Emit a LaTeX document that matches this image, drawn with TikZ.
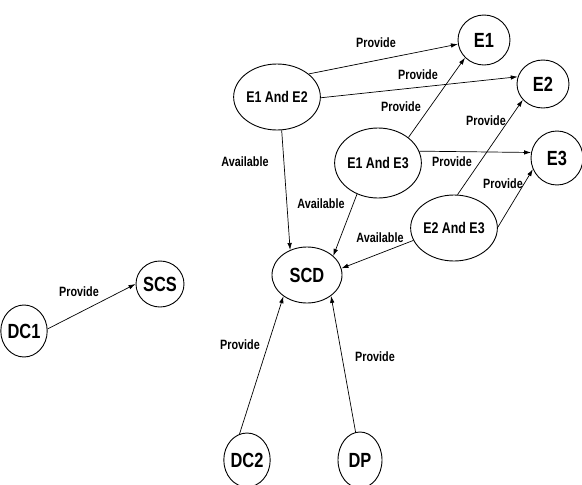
\documentclass[tikz,border=0pt]{standalone}
\usepackage{fontspec}
\setmainfont{Liberation Sans}[FakeStretch=0.8]
\usetikzlibrary{shapes.geometric,arrows.meta}
\begin{document}
\begin{tikzpicture}[x=1pt,y=-1pt,
  ell/.style={draw,ellipse,inner sep=0pt,line width=0.9pt,font=\bfseries\fontsize{#1}{#1}\selectfont},
  big/.style={ell=20.5},
  pair/.style={ell=15.5},
  arr/.style={line width=0.7pt,-{Latex[length=7pt,width=4.5pt]}},
  lab/.style={font=\bfseries\fontsize{13.5}{13.5}\selectfont,inner sep=0pt}]
\useasboundingbox (0,0) rectangle (582,485);
\node[big,minimum width=52pt,minimum height=50pt] (E1) at (484,40) {E1};
\node[big,minimum width=52pt,minimum height=48pt] (E2) at (543,84) {E2};
\node[big,minimum width=52pt,minimum height=54pt] (E3) at (557,158) {E3};
\node[pair,minimum width=80pt,minimum height=66pt] (E12) at (277,97) {E1 And E2};
\node[pair,minimum width=76pt,minimum height=70pt] (E13) at (378,163) {E1 And E3};
\node[pair,minimum width=78pt,minimum height=66pt] (E23) at (454,228) {E2 And E3};
\node[big,minimum width=70pt,minimum height=56pt] (SCD) at (307,275) {SCD};
\node[big,minimum width=48pt,minimum height=46pt] (SCS) at (160,284) {SCS};
\node[big,minimum width=38pt,minimum height=52pt] (DC1) at (24,331) {DC1};
\node[big,minimum width=40pt,minimum height=54pt] (DC2) at (247,460) {DC2};
\node[big,minimum width=44pt,minimum height=56pt] (DP) at (360,460) {DP};

\draw[arr] (E12.36) -- (E1.189);
\draw[arr] (E12.-1) -- (E2.164);
\draw[arr] (E13.40) -- (E1.223);
\draw[arr] (E23.84) -- (E2.218);
\draw[arr] (E13.16) -- (E3.168);
\draw[arr] (E23.1) -- (E3.205);
\draw[arr] (E12.-82) -- (SCD.124);
\draw[arr] (E13.236) -- (SCD.36);
\draw[arr] (E23.197) -- (SCD.11);
\draw[arr] (DC1.5) -- (SCS.180);
\draw[arr] (DC2.106) -- (SCD.222);
\draw[arr] (DP.99) -- (SCD.319);

\node[lab] (l1) at (376,43) {Provide};
\node[lab] (l2) at (418,75) {Provide};
\node[lab] (l3) at (401,107) {Provide};
\node[lab] (l4) at (486,121) {Provide};
\node[lab] (l5) at (452,162) {Provide};
\node[lab] (l6) at (503,184) {Provide};
\node[lab] (a1) at (245,162) {Available};
\node[lab] (a2) at (321,204) {Available};
\node[lab] (a3) at (380,238) {Available};
\node[lab] (l7) at (79,292) {Provide};
\node[lab] (l8) at (240,345) {Provide};
\node[lab] (l9) at (375,357) {Provide};
\end{tikzpicture}
\end{document}
